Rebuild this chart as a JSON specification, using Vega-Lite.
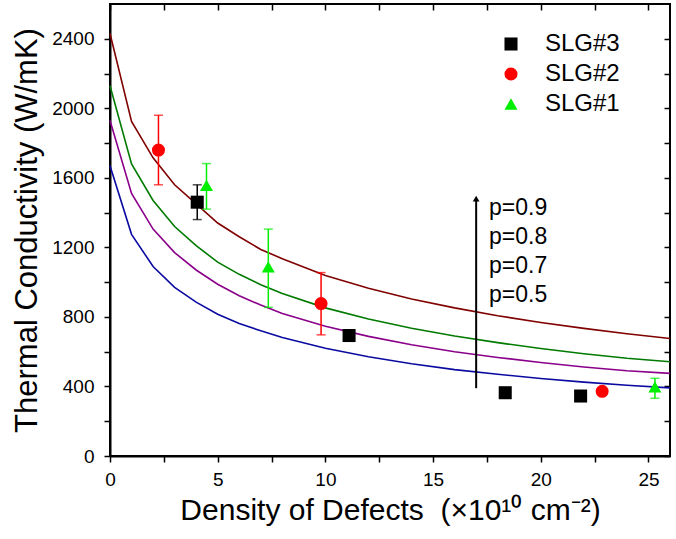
{
  "$schema": "https://vega.github.io/schema/vega-lite/v6.json",
  "autosize": "none",
  "width": 560,
  "height": 452,
  "padding": {"left": 110, "top": 4, "right": 6, "bottom": 83},
  "background": "white",
  "config": {
    "font": "Liberation Sans",
    "view": {"stroke": "black", "strokeWidth": 2},
    "axis": {"grid": false},
    "scale": {"continuousPadding": 0},
    "legend": {
      "orient": "none", "legendX": 389, "legendY": 28,
      "labelFontSize": 24, "labelColor": "black", "labelOffset": 22, "rowPadding": 6,
      "symbolSize": 170
    }
  },
  "datasets": {
    "curves": [
      {"p": "0.9", "n": 0, "k": 2430}, {"p": "0.9", "n": 1, "k": 1925}, {"p": "0.9", "n": 2, "k": 1715}, {"p": "0.9", "n": 3, "k": 1560},
      {"p": "0.9", "n": 4, "k": 1450}, {"p": "0.9", "n": 5, "k": 1340}, {"p": "0.9", "n": 6, "k": 1261}, {"p": "0.9", "n": 7, "k": 1188},
      {"p": "0.9", "n": 8, "k": 1135}, {"p": "0.9", "n": 10, "k": 1038}, {"p": "0.9", "n": 12, "k": 965}, {"p": "0.9", "n": 14, "k": 903},
      {"p": "0.9", "n": 16, "k": 852}, {"p": "0.9", "n": 18, "k": 807}, {"p": "0.9", "n": 20, "k": 768}, {"p": "0.9", "n": 22, "k": 734},
      {"p": "0.9", "n": 24, "k": 703}, {"p": "0.9", "n": 26, "k": 676},
      {"p": "0.8", "n": 0, "k": 2130}, {"p": "0.8", "n": 1, "k": 1680}, {"p": "0.8", "n": 2, "k": 1470}, {"p": "0.8", "n": 3, "k": 1320},
      {"p": "0.8", "n": 4, "k": 1210}, {"p": "0.8", "n": 5, "k": 1115}, {"p": "0.8", "n": 6, "k": 1045}, {"p": "0.8", "n": 7, "k": 985},
      {"p": "0.8", "n": 8, "k": 935}, {"p": "0.8", "n": 10, "k": 852}, {"p": "0.8", "n": 12, "k": 788}, {"p": "0.8", "n": 14, "k": 735},
      {"p": "0.8", "n": 16, "k": 690}, {"p": "0.8", "n": 18, "k": 652}, {"p": "0.8", "n": 20, "k": 618}, {"p": "0.8", "n": 22, "k": 588},
      {"p": "0.8", "n": 24, "k": 562}, {"p": "0.8", "n": 26, "k": 542},
      {"p": "0.7", "n": 0, "k": 1930}, {"p": "0.7", "n": 1, "k": 1510}, {"p": "0.7", "n": 2, "k": 1305}, {"p": "0.7", "n": 3, "k": 1170},
      {"p": "0.7", "n": 4, "k": 1070}, {"p": "0.7", "n": 5, "k": 988}, {"p": "0.7", "n": 6, "k": 922}, {"p": "0.7", "n": 7, "k": 868},
      {"p": "0.7", "n": 8, "k": 820}, {"p": "0.7", "n": 10, "k": 746}, {"p": "0.7", "n": 12, "k": 688}, {"p": "0.7", "n": 14, "k": 640},
      {"p": "0.7", "n": 16, "k": 600}, {"p": "0.7", "n": 18, "k": 567}, {"p": "0.7", "n": 20, "k": 538}, {"p": "0.7", "n": 22, "k": 512},
      {"p": "0.7", "n": 24, "k": 490}, {"p": "0.7", "n": 26, "k": 475},
      {"p": "0.5", "n": 0, "k": 1670}, {"p": "0.5", "n": 1, "k": 1275}, {"p": "0.5", "n": 2, "k": 1090}, {"p": "0.5", "n": 3, "k": 970},
      {"p": "0.5", "n": 4, "k": 885}, {"p": "0.5", "n": 5, "k": 815}, {"p": "0.5", "n": 6, "k": 762}, {"p": "0.5", "n": 7, "k": 720},
      {"p": "0.5", "n": 8, "k": 682}, {"p": "0.5", "n": 10, "k": 620}, {"p": "0.5", "n": 12, "k": 571}, {"p": "0.5", "n": 14, "k": 531},
      {"p": "0.5", "n": 16, "k": 497}, {"p": "0.5", "n": 18, "k": 470}, {"p": "0.5", "n": 20, "k": 446}, {"p": "0.5", "n": 22, "k": 425},
      {"p": "0.5", "n": 24, "k": 407}, {"p": "0.5", "n": 26, "k": 392}
    ],
    "points": [
      {"series": "SLG#3", "n": 4.05, "k": 1460},
      {"series": "SLG#3", "n": 11.1, "k": 693},
      {"series": "SLG#3", "n": 18.35, "k": 364},
      {"series": "SLG#3", "n": 21.85, "k": 345},
      {"series": "SLG#2", "n": 2.25, "k": 1760},
      {"series": "SLG#2", "n": 9.8, "k": 877},
      {"series": "SLG#2", "n": 22.85, "k": 372},
      {"series": "SLG#1", "n": 4.48, "k": 1557},
      {"series": "SLG#1", "n": 7.35, "k": 1088},
      {"series": "SLG#1", "n": 25.3, "k": 398}
    ],
    "errs": [
      {"series": "SLG#3", "n": 4.05, "lo": 1360, "hi": 1560},
      {"series": "SLG#2", "n": 2.25, "lo": 1560, "hi": 1960},
      {"series": "SLG#2", "n": 9.8, "lo": 697, "hi": 1055},
      {"series": "SLG#2", "n": 22.85, "lo": 350, "hi": 392},
      {"series": "SLG#1", "n": 4.48, "lo": 1420, "hi": 1682},
      {"series": "SLG#1", "n": 7.35, "lo": 855, "hi": 1305},
      {"series": "SLG#1", "n": 25.3, "lo": 332, "hi": 447}
    ],
    "arrow": [{"n": 17, "lo": 390, "hi": 1470, "tip": 1480}],
    "labels": [
      {"t": "p=0.9", "n": 17.6, "k": 1425},
      {"t": "p=0.8", "n": 17.6, "k": 1259},
      {"t": "p=0.7", "n": 17.6, "k": 1092},
      {"t": "p=0.5", "n": 17.6, "k": 925}
    ]
  },
  "layer": [
    {
      "data": {"name": "curves"},
      "mark": {"type": "line", "strokeWidth": 1.6},
      "encoding": {
        "x": {
          "field": "n", "type": "quantitative",
          "scale": {"domain": [0, 26], "nice": false, "zero": false, "padding": 0},
          "axis": {
            "orient": "bottom",
            "values": [0, 2.5, 5, 7.5, 10, 12.5, 15, 17.5, 20, 22.5, 25],
            "labelExpr": "datum.value % 5 === 0 ? datum.label : ''",
            "title": "Density of Defects\u00a0 (×10¹⁰ cm⁻²)",
            "titleFontSize": 30, "titleFontWeight": "normal", "titleColor": "black", "titlePadding": 6,
            "labelFontSize": 19, "labelColor": "black", "labelPadding": 8, "labelFlush": false,
            "domainColor": "black", "domainWidth": 2, "tickColor": "black", "tickWidth": 1.5, "tickSize": 6
          }
        },
        "y": {
          "field": "k", "type": "quantitative",
          "scale": {"domain": [0, 2600], "nice": false, "zero": false, "padding": 0},
          "axis": {
            "orient": "left",
            "values": [0, 200, 400, 600, 800, 1000, 1200, 1400, 1600, 1800, 2000, 2200, 2400],
            "labelExpr": "datum.value % 400 === 0 ? datum.label : ''",
            "format": "d",
            "title": "Thermal Conductivity (W/mK)",
            "titleFontSize": 31, "titleFontWeight": "normal", "titleColor": "black", "titlePadding": 8,
            "labelFontSize": 19, "labelColor": "black", "labelPadding": 10, "labelFlush": false,
            "domainColor": "black", "domainWidth": 2, "tickColor": "black", "tickWidth": 1.5, "tickSize": 6
          }
        },
        "stroke": {
          "field": "p", "type": "nominal",
          "scale": {"domain": ["0.9", "0.8", "0.7", "0.5"], "range": ["#800000", "#007a00", "#8a008a", "#0a0aa0"]},
          "legend": null
        }
      }
    },
    {
      "data": {"name": "arrow"},
      "mark": {"type": "rule", "color": "black", "strokeWidth": 2},
      "encoding": {
        "x": {
          "field": "n", "type": "quantitative",
          "axis": {
            "orient": "top", "values": [0, 2.5, 5, 7.5, 10, 12.5, 15, 17.5, 20, 22.5, 25],
            "labels": false, "title": null, "domain": false,
            "tickColor": "black", "tickWidth": 1.5, "tickSize": -6
          }
        },
        "y": {
          "field": "lo", "type": "quantitative",
          "axis": {
            "orient": "right", "values": [0, 200, 400, 600, 800, 1000, 1200, 1400, 1600, 1800, 2000, 2200, 2400],
            "labels": false, "title": null, "domain": false,
            "tickColor": "black", "tickWidth": 1.5, "tickSize": -6
          }
        },
        "y2": {"field": "hi"}
      }
    },
    {
      "data": {"name": "arrow"},
      "mark": {"type": "point", "shape": "triangle-up", "filled": true, "color": "black", "size": 45, "opacity": 1},
      "encoding": {
        "x": {"field": "n", "type": "quantitative", "axis": null},
        "y": {"field": "tip", "type": "quantitative", "axis": null}
      }
    },
    {
      "data": {"name": "errs"},
      "mark": {"type": "bar", "width": 1.5},
      "encoding": {
        "x": {"field": "n", "type": "quantitative", "axis": null},
        "y": {"field": "lo", "type": "quantitative", "axis": null},
        "y2": {"field": "hi"},
        "fill": {"field": "series", "type": "nominal", "scale": {"domain": ["SLG#1", "SLG#2", "SLG#3"], "range": ["#00ee00", "#ff0000", "#000000"]}, "legend": null}
      }
    },
    {
      "data": {"name": "errs"},
      "mark": {"type": "tick", "orient": "horizontal", "size": 9, "thickness": 1.5},
      "encoding": {
        "x": {"field": "n", "type": "quantitative", "axis": null},
        "y": {"field": "lo", "type": "quantitative", "axis": null},
        "fill": {"field": "series", "type": "nominal", "legend": null}
      }
    },
    {
      "data": {"name": "errs"},
      "mark": {"type": "tick", "orient": "horizontal", "size": 9, "thickness": 1.5},
      "encoding": {
        "x": {"field": "n", "type": "quantitative", "axis": null},
        "y": {"field": "hi", "type": "quantitative", "axis": null},
        "fill": {"field": "series", "type": "nominal", "legend": null}
      }
    },
    {
      "data": {"name": "points"},
      "mark": {"type": "point", "filled": true, "opacity": 1, "size": 170},
      "encoding": {
        "x": {"field": "n", "type": "quantitative", "axis": null},
        "y": {"field": "k", "type": "quantitative", "axis": null},
        "color": {
          "field": "series", "type": "nominal", "title": null,
          "scale": {"domain": ["SLG#3", "SLG#2", "SLG#1"], "range": ["#000000", "#ff0000", "#00ee00"]}
        },
        "shape": {
          "field": "series", "type": "nominal", "title": null,
          "scale": {"domain": ["SLG#3", "SLG#2", "SLG#1"], "range": ["square", "circle", "triangle-up"]}
        }
      }
    },
    {
      "data": {"name": "labels"},
      "mark": {"type": "text", "align": "left", "baseline": "middle", "fontSize": 23, "color": "black"},
      "encoding": {
        "x": {"field": "n", "type": "quantitative", "axis": null},
        "y": {"field": "k", "type": "quantitative", "axis": null},
        "text": {"field": "t"}
      }
    }
  ]
}
